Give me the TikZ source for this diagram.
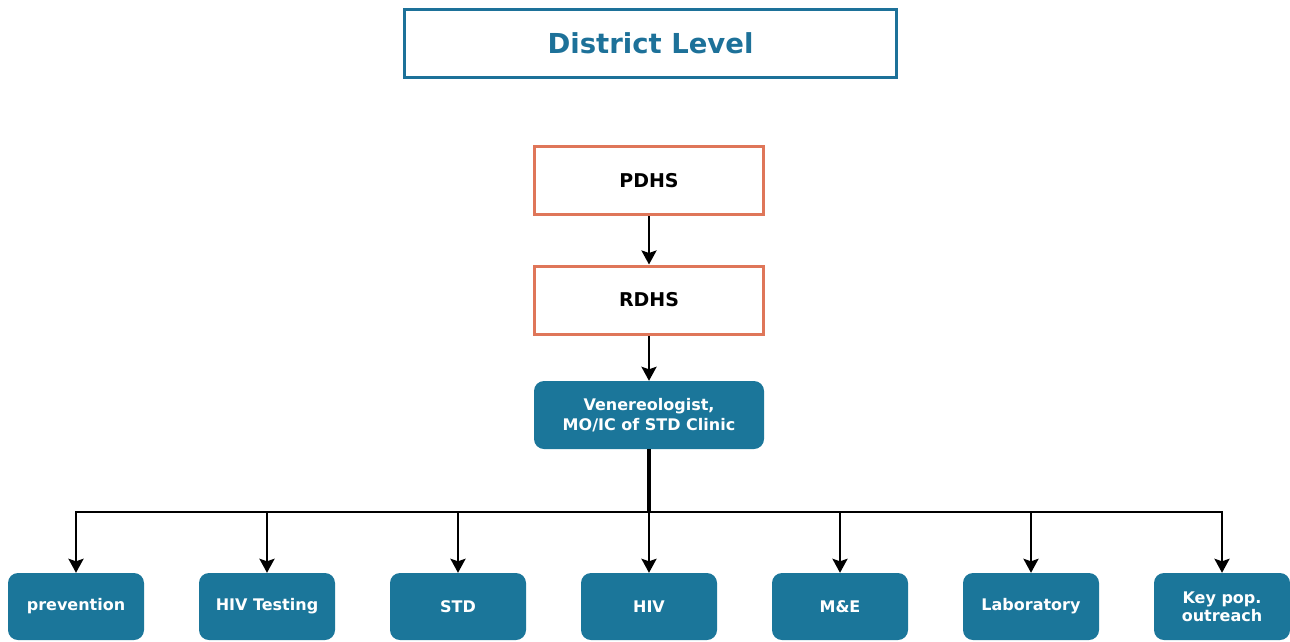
\documentclass[tikz,border=0pt]{standalone}
\usepackage{fontspec}
\setmainfont{DejaVu Sans}
\usetikzlibrary{arrows.meta}

\definecolor{teal1}{HTML}{1B769A}
\definecolor{title1}{HTML}{1D7199}
\definecolor{orange1}{HTML}{DF7659}

\tikzset{
  titlebox/.style={draw=title1,line width=3.5pt,minimum width=492pt,minimum height=68pt,
    text=title1,font=\fontsize{27.5}{32}\selectfont\bfseries},
  dhsbox/.style={draw=orange1,line width=3pt,minimum width=229pt,minimum height=68pt,
    font=\fontsize{19}{23}\selectfont\bfseries},
  headbox/.style={fill=teal1,rounded corners=10pt,minimum width=230pt,minimum height=68pt,
    text=white,align=center,font=\fontsize{16}{20}\selectfont\bfseries},
  unitbox/.style={fill=teal1,rounded corners=10pt,minimum width=136pt,minimum height=67pt,
    text=white,align=center,font=\fontsize{16}{18}\selectfont\bfseries},
  arr/.style={-{Stealth[length=14pt,width=15pt,inset=2.5pt]},line width=2.6pt},
}

\begin{document}
\begin{tikzpicture}[x=1pt,y=-1pt]
\useasboundingbox (0,0) rectangle (1290,641);

\node[titlebox] (district) at (650.5,43.5) {District Level};

\node[dhsbox] (pdhs) at (649,180.5) {PDHS};
\node[dhsbox] (rdhs) at (649,300) {RDHS};
\node[headbox] (ven) at (649,415) {Venereologist,\\MO/IC of STD Clinic};

\draw[arr] (pdhs) -- (rdhs);
\draw[arr] (rdhs) -- (ven);

%---------------------------------

\node[unitbox] (prev) at (76,606.5) {prevention};
\node[unitbox] (test) at (267,606.5) {HIV Testing};
\node[unitbox] (std) at (458,606.5) {STD};
\node[unitbox] (hiv) at (649,606.5) {HIV};
\node[unitbox] (me) at (840,606.5) {M\&E};
\node[unitbox] (lab) at (1031,606.5) {Laboratory};
\node[unitbox] (key) at (1222,606.5) {Key pop.\\outreach};

\coordinate (bus) at (649,512);
\draw[line width=3.5pt] (ven.south) -- (bus);
\draw[arr] (bus) -| (prev.north);
\draw[arr] (bus) -| (key.north);
\foreach \n in {test,std,hiv,me,lab}
  \draw[arr] (\n.north |- bus) -- (\n.north);
\end{tikzpicture}
\end{document}
